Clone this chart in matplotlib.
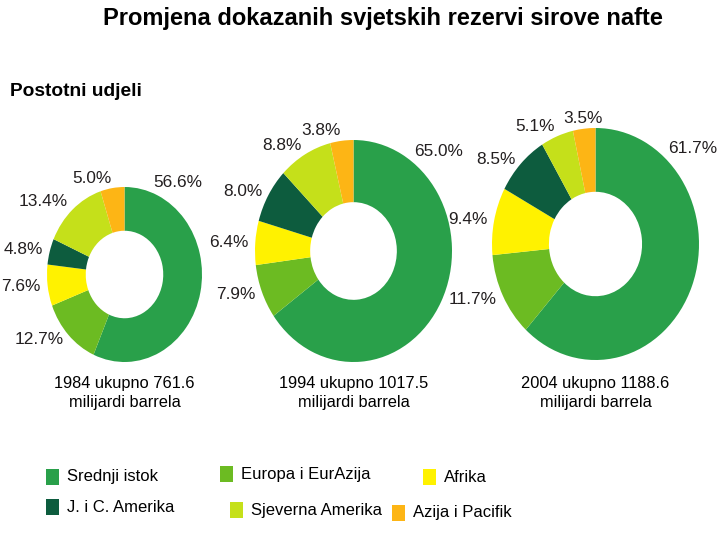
import matplotlib
matplotlib.use("Agg")
import matplotlib.pyplot as plt
from matplotlib.patches import Rectangle
import numpy as np

plt.rcParams["font.family"] = ["Liberation Sans", "DejaVu Sans"]

# podaci
years = ["1984", "1994", "2004"]
totals = ["761.6", "1017.5", "1188.6"]
regions = ["Srednji istok", "Europa i EurAzija", "Afrika",
           "J. i C. Amerika", "Sjeverna Amerika", "Azija i Pacifik"]
shares_1984 = [56.6, 12.7, 7.6, 4.8, 13.4, 5.0]
shares_1994 = [65.0, 7.9, 6.4, 8.0, 8.8, 3.8]
shares_2004 = [61.7, 11.7, 9.4, 8.5, 5.1, 3.5]
shares = [shares_1984, shares_1994, shares_2004]

colors = ["#29a04a", "#6cbb22", "#fff200", "#0d5c3e", "#c5e01a", "#fdb515"]

# raspored (pikseli, 720x540)
W, H = 720., 540.
boxes = [(47, 187, 202, 362), (255, 140, 452, 362), (492, 128, 699, 360)]  # l, t, r, b
holes = [0.50, 0.56, 0.55]
big_angle = [70, 55, 49]
ha_fix = {2: {5: "center"}}
gap = 7
txt_col = "#231f20"

fig = plt.figure(figsize=(7.2, 5.4), dpi=100)

fig.text(382.5 / W, 1 - 18 / H, "Promjena dokazanih svjetskih rezervi sirove nafte",
         ha="center", va="center", fontsize=17, fontweight="bold", color="black")
fig.text(10 / W, 1 - 92 / H, "Postotni udjeli", ha="left", va="center",
         fontsize=13.8, fontweight="bold", color="black")

for i, (l, t, r, b) in enumerate(boxes):
    ax = fig.add_axes([l / W, 1 - b / H, (r - l) / W, (b - t) / H])
    wedges, _ = ax.pie(shares[i], colors=colors, startangle=90, counterclock=False,
                       radius=1, wedgeprops=dict(width=holes[i], linewidth=0))
    ax.set_aspect("auto")
    ax.set_xlim(-1, 1)
    ax.set_ylim(-1, 1)
    ax.axis("off")

    for j, w in enumerate(wedges):
        ang = (w.theta1 + w.theta2) / 2.
        if j == 0:
            ang = big_angle[i]
        c, s = np.cos(np.radians(ang)), np.sin(np.radians(ang))
        if c > 0.1:
            ha = "left"
        elif c < -0.1:
            ha = "right"
        else:
            ha = "center"
        ha = ha_fix.get(i, {}).get(j, ha)
        ax.annotate("%.1f%%" % shares[i][j], xy=(c, s), xycoords="data",
                    xytext=(gap * c, gap * s + (3 if s > 0.7 else 0)),
                    textcoords="offset pixels",
                    ha=ha, va="center", fontsize=12.4, color=txt_col,
                    annotation_clip=False)

    cx = (l + r) / 2.
    fig.text(cx / W, 1 - 393 / H, "%s ukupno %s\nmilijardi barrela" % (years[i], totals[i]),
             ha="center", va="center", fontsize=11.8, linespacing=1.35, color="black")

# legenda
leg_pos = [(46, 477), (220, 474), (423, 477), (46, 507), (230, 510), (392, 513)]
for k, (x, yc) in enumerate(leg_pos):
    fig.add_artist(Rectangle((x / W, 1 - (yc + 8) / H), 13 / W, 16 / H,
                             transform=fig.transFigure, facecolor=colors[k], edgecolor="none"))
    fig.text((x + 21) / W, 1 - yc / H, regions[k], ha="left", va="center",
             fontsize=12, color="black")

fig.savefig("out.png", dpi=100)
